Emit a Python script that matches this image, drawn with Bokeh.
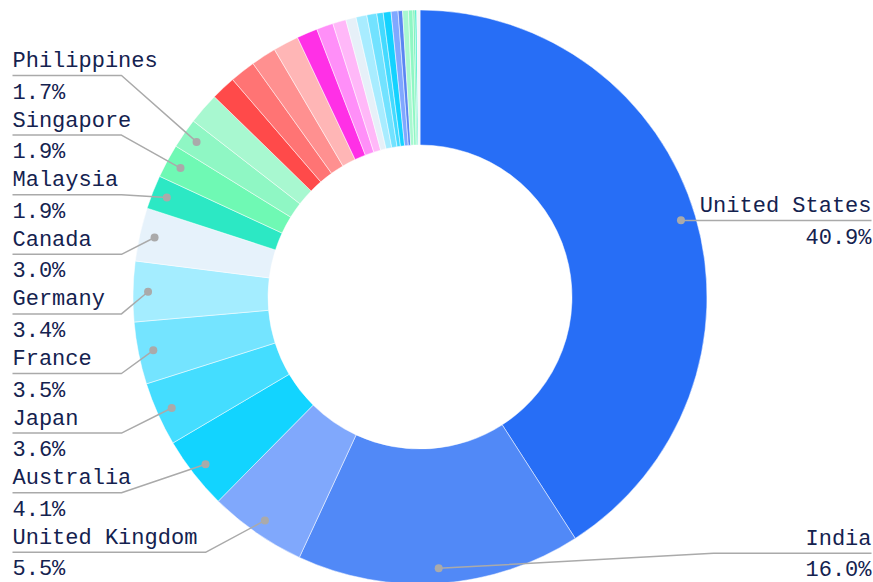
import math
from bokeh.plotting import figure
from bokeh.models import Range1d
from bokeh.core.properties import value
from bokeh.embed import file_html
from bokeh.resources import INLINE

# ---- data ----
countries = ["United States", "India", "United Kingdom", "Australia", "Japan",
             "France", "Germany", "Canada", "Malaysia", "Singapore", "Philippines"]
shares = [40.9, 16.0, 5.5, 4.1, 3.6, 3.5, 3.4, 3.0, 1.9, 1.9, 1.7]
other_names = ["Other %d" % (i + 1) for i in range(20)]
other_shares = [1.78, 1.39, 1.44, 1.42, 1.44, 1.17, 0.94, 0.75, 0.58, 0.61,
                0.56, 0.36, 0.44, 0.39, 0.25, 0.33, 0.25, 0.11, 0.10, 0.18]
colors = ["#276ef6", "#5189f7", "#80a8fc", "#12d4ff", "#44ddff", "#74e4ff",
          "#a4edff", "#e6f2fb", "#2ce8c4", "#6ff9b4", "#8ff7c4",
          "#a8f8d0", "#ff4a4a", "#ff7474", "#ff9090", "#ffb6b6", "#ff30e6",
          "#ff8ff8", "#ffb8f8", "#e6f0f8", "#a8ecff", "#72e2ff", "#44daff",
          "#14d2ff", "#80a8ff", "#5a86f2", "#a8f8d0", "#8ff7c4", "#6ff0b2",
          "#2ce8c4", "#f2f6fa"]

# ---- layout ----
W, H = 873, 582
cx, cy = 419.5, -296.5
r_out, r_in, r_dot = 287, 152, 272
FONT = "Liberation Mono"
TXT = "#14224f"
GREY = "#aaaaaa"
NAME_DY, PCT_DY = 14.0, -17.5

p = figure(width=W, height=H, x_range=Range1d(0, W),
           y_range=Range1d(-H, 0), output_backend="svg",
           toolbar_location=None, min_border=0,
           x_axis_location=None, y_axis_location=None)
p.grid.visible = False
p.outline_line_color = None
p.background_fill_color = "white"

vals = shares + other_shares
total = sum(vals)
starts, ends, mids = [], [], []
cum = 0.0
for v in vals:
    a0 = cum / total * 2 * math.pi
    cum += v
    a1 = cum / total * 2 * math.pi
    starts.append(math.pi / 2 - a0)
    ends.append(math.pi / 2 - a1)
    mids.append((a0 + a1) / 2)

p.annular_wedge(x=cx, y=cy, inner_radius=r_in, outer_radius=r_out,
                start_angle=starts, end_angle=ends, direction="clock",
                fill_color=colors[:len(vals)], line_color="white", line_width=0.5)

def dot_xy(i):
    t = mids[i]
    return cx + r_dot * math.sin(t), cy + r_dot * math.cos(t)

def label(x, ly, name, pct, align):
    p.text(x=[x], y=[ly + NAME_DY], text=[name], text_font=value(FONT),
           text_font_size="22px", text_color=TXT, text_align=align,
           text_baseline="alphabetic")
    p.text(x=[x], y=[ly + PCT_DY], text=[pct], text_font=value(FONT),
           text_font_size="22px", text_color=TXT, text_align=align,
           text_baseline="alphabetic")

# left labels (top to bottom): Philippines ... United Kingdom
left_idx = [10, 9, 8, 7, 6, 5, 4, 3, 2]
dxs, dys = [], []
for j, i in enumerate(left_idx):
    ly = -(75 + j * 59.6)
    ex = 205 if i == 2 else 121
    dx, dy = dot_xy(i)
    p.line([12, ex, dx], [ly, ly, dy], line_color=GREY, line_width=1.5)
    dxs.append(dx); dys.append(dy)
    label(12, ly, countries[i], "%.1f%%" % shares[i], "left")

# right labels
right = [(0, -220.0, None), (1, -552.7, 713)]
for i, ly, ex in right:
    dx, dy = dot_xy(i)
    if ex is None:
        xs, ys = [dx, 871], [ly, ly]
    else:
        xs, ys = [dx, ex, 871], [dy, ly, ly]
    p.line(xs, ys, line_color=GREY, line_width=1.5)
    dxs.append(dx); dys.append(dy)
    label(871, ly, countries[i], "%.1f%%" % shares[i], "right")

p.scatter(dxs, dys, size=8, fill_color=GREY, line_color=None)

open("out.html", "w").write(file_html(p, INLINE))
